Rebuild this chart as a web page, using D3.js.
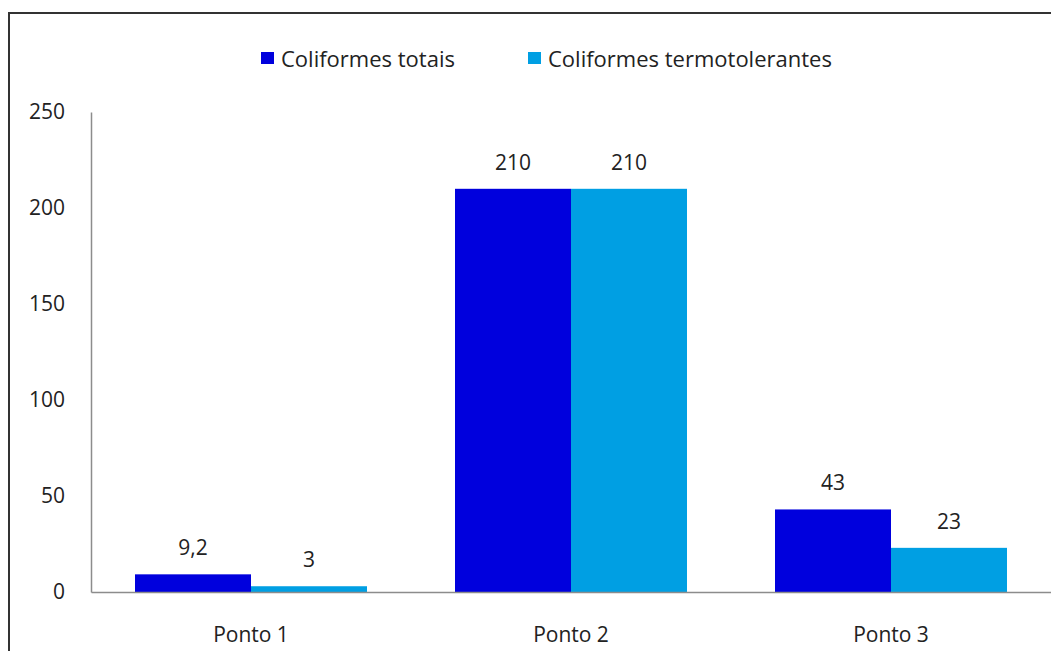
<!DOCTYPE html>
<html>
<head>
<meta charset="utf-8">
<script src="https://cdn.jsdelivr.net/npm/d3@7"></script>
<style>
  html, body { margin: 0; padding: 0; background: #fff; }
  svg { display: block; }
  text { font-family: "Open Sans", "Lato", sans-serif; fill: #222; }
</style>
</head>
<body>
<svg id="chart" width="1051" height="651"></svg>
<script>
// Coliform counts per sampling point
const categories = ["Ponto 1", "Ponto 2", "Ponto 3"];
const seriesNames = ["Coliformes totais", "Coliformes termotolerantes"];
const totais = [9.2, 210, 43];
const termotolerantes = [3, 210, 23];
const valueLabels = [["9,2", "210", "43"], ["3", "210", "23"]];
const yTicks = [0, 50, 100, 150, 200, 250];
const colors = ["#0000dd", "#009fe3"];

const series = [totais, termotolerantes];

const svg = d3.select("#chart");
const W = 1051, H = 651;
const FONT = 21;
const LEGEND_FONT = 22;

// outer frame
svg.append("rect")
  .attr("x", 9).attr("y", 13)
  .attr("width", W + 10).attr("height", H + 10)
  .attr("fill", "#fff")
  .attr("stroke", "#333").attr("stroke-width", 2);

const plot = { left: 91, right: 1051, top: 112, bottom: 592 };

const x = d3.scaleBand()
  .domain(categories)
  .range([plot.left, plot.right])
  .paddingInner(0.275)
  .paddingOuter(0.1375);

const x1 = d3.scaleBand()
  .domain(d3.range(seriesNames.length))
  .range([0, x.bandwidth()]);

const y = d3.scaleLinear()
  .domain([0, 250])
  .range([plot.bottom, plot.top]);

// bars
const groups = svg.append("g").selectAll("g")
  .data(categories)
  .join("g")
  .attr("transform", c => `translate(${x(c)},0)`);

const cells = (c, i) => series.map((s, k) => ({ k, v: s[i], label: valueLabels[k][i] }));

groups.selectAll("rect")
  .data(cells)
  .join("rect")
  .attr("x", d => x1(d.k))
  .attr("y", d => y(d.v))
  .attr("width", x1.bandwidth())
  .attr("height", d => y(0) - y(d.v))
  .attr("fill", d => colors[d.k]);

// value labels
groups.selectAll("text")
  .data(cells)
  .join("text")
  .attr("x", d => x1(d.k) + x1.bandwidth() / 2)
  .attr("y", d => y(d.v) - 19)
  .attr("text-anchor", "middle")
  .attr("font-size", FONT)
  .text(d => d.label);

// y axis
const yAxis = svg.append("g")
  .attr("transform", `translate(${plot.left},0)`)
  .call(d3.axisLeft(y).tickValues(yTicks).tickSize(0).tickPadding(26)
    .tickFormat(d3.format("d")));
yAxis.select(".domain").attr("stroke", "#8c8c8c").attr("stroke-width", 1.5);
yAxis.selectAll("text").attr("font-size", FONT).attr("font-family", "'Open Sans', sans-serif").attr("fill", "#222");

// x axis
const xAxis = svg.append("g")
  .attr("transform", `translate(0,${plot.bottom})`)
  .call(d3.axisBottom(x).tickSize(0).tickPadding(35));
xAxis.select(".domain").attr("stroke", "#8c8c8c").attr("stroke-width", 1.5);
xAxis.selectAll("text").attr("font-size", FONT).attr("font-family", "'Open Sans', sans-serif").attr("fill", "#222");

// legend
const legendX = [261, 528];
const legend = svg.append("g").selectAll("g")
  .data(seriesNames)
  .join("g")
  .attr("transform", (d, i) => `translate(${legendX[i]},52)`);
legend.append("rect")
  .attr("width", 13).attr("height", 12)
  .attr("fill", (d, i) => colors[i]);
legend.append("text")
  .attr("x", 20).attr("y", 15)
  .attr("font-size", LEGEND_FONT)
  .text(d => d);
</script>
</body>
</html>
